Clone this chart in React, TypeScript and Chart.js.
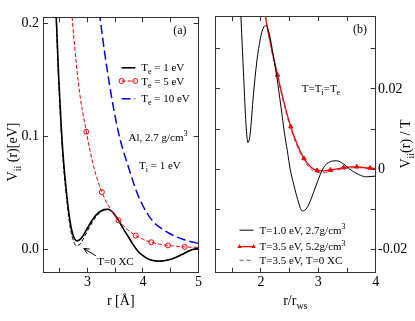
import React, { useEffect, useRef } from 'react';
import { Chart, registerables } from 'chart.js';

Chart.register(...registerables);

const FONT = '"Liberation Serif", "Times New Roman", Times, serif';

// ---------- Panel (a): V_ii(r) [eV] vs r [Å] ----------
const xLabelsA = [3, 4, 5];
const yLabelsA = [0, 0.1, 0.2];

// T_e = 1 eV (black solid)
const rBlackA = [2.40, 2.44, 2.48, 2.53, 2.57, 2.63, 2.69, 2.75, 2.82, 2.90, 3.00, 3.10, 3.20, 3.30, 3.38, 3.47, 3.56, 3.65, 3.74, 3.82, 3.91, 4.00, 4.10, 4.20, 4.32, 4.45, 4.60, 4.73, 4.85, 5.00];
const vBlackA = [0.26, 0.204, 0.155, 0.107, 0.078, 0.047, 0.024, 0.0115, 0.0076, 0.0105, 0.019, 0.027, 0.0325, 0.0352, 0.0355, 0.032, 0.0258, 0.018, 0.011, 0.0045, -0.0015, -0.0055, -0.0085, -0.0099, -0.0103, -0.0093, -0.0068, -0.0037, -0.0008, 0.0012];

// T_e = 1 eV, T=0 XC (black thin dashed)
const rDashA = [2.40, 2.44, 2.48, 2.53, 2.57, 2.63, 2.69, 2.75, 2.80, 2.87, 2.95, 3.05, 3.15, 3.25, 3.35, 3.47, 3.56, 3.65, 3.74, 3.82, 3.91, 4.00, 4.10, 4.20, 4.32, 4.45, 4.60, 4.73, 4.85, 5.00];
const vDashA = [0.26, 0.2, 0.151, 0.103, 0.074, 0.043, 0.0195, 0.0075, 0.0033, 0.005, 0.0115, 0.021, 0.0285, 0.0335, 0.0355, 0.032, 0.0258, 0.018, 0.011, 0.0045, -0.0015, -0.0055, -0.0085, -0.0099, -0.0103, -0.0093, -0.0068, -0.0037, -0.0008, 0.0012];

// T_e = 5 eV (red dashed, open circles)
const rRedA = [2.60, 2.69, 2.835, 2.98, 3.12, 3.26, 3.41, 3.56, 3.715, 3.87, 4.01, 4.15, 4.30, 4.45, 4.60, 4.75, 4.875, 5.00];
const vRedA = [0.29, 0.226, 0.148, 0.104, 0.072, 0.0507, 0.036, 0.0258, 0.0178, 0.0123, 0.0088, 0.0064, 0.0047, 0.0036, 0.0028, 0.0023, 0.002, 0.0018];
const redMarkersA = [2.98, 3.26, 3.56, 3.87, 4.15, 4.45, 4.75];

// T_e = 10 eV (blue long dash)
const rBlueA = [3.10, 3.23, 3.40, 3.56, 3.74, 3.91, 4.14, 4.43, 4.73, 5.00];
const vBlueA = [0.267, 0.204, 0.145, 0.103, 0.0727, 0.048, 0.0273, 0.0155, 0.0088, 0.0053];

// ---------- Panel (b): V_ii(r)/T vs r/r_ws ----------
const xLabelsB = [2, 3, 4];
const yLabelsB = [-0.02, 0, 0.02];

// T=1.0 eV, 2.7 g/cm3 (black thin)
const rBlackB = [1.63, 1.652, 1.70, 1.74, 1.774, 1.81, 1.87, 1.93, 1.99, 2.04, 2.09, 2.15, 2.21, 2.278, 2.35, 2.41, 2.46, 2.51, 2.57, 2.64, 2.72, 2.80, 2.88, 2.97, 3.09, 3.20, 3.32, 3.45, 3.55, 3.70, 3.84, 4.00];
const vBlackB = [0.046, 0.038, 0.0229, 0.0112, 0.0066, 0.0085, 0.0187, 0.027, 0.0325, 0.0352, 0.0358, 0.0335, 0.0288, 0.0229, 0.0155, 0.009, 0.0046, 0.0, -0.0037, -0.0075, -0.0104, -0.0097, -0.0072, -0.0037, 0.0004, 0.0018, 0.0021, 0.0012, 0.0, -0.0013, -0.0019, -0.0017];

// T=3.5 eV, 5.2 g/cm3 (red, triangles)
const rRedB = [2.00, 2.08, 2.18, 2.29, 2.40, 2.52, 2.63, 2.75, 2.86, 2.98, 3.09, 3.21, 3.33, 3.44, 3.56, 3.67, 3.79, 3.90, 4.00];
const vRedB = [0.047, 0.038, 0.0305, 0.0235, 0.0168, 0.0106, 0.0063, 0.0027, 0.0007, -0.0003, -0.0004, -0.0002, 0.0001, 0.0004, 0.0006, 0.0006, 0.0004, 0.0003, 0.0002];
const redMarkersB = [2.29, 2.52, 2.75, 2.98, 3.21, 3.44, 3.67, 3.90];

// T=3.5 eV, T=0 XC (purple dashed)
const rPurpleB = [2.00, 2.08, 2.18, 2.29, 2.40, 2.52, 2.63, 2.75, 2.86, 2.98, 3.09, 3.21, 3.33, 3.44, 3.56, 3.67, 3.79, 3.90, 4.00];
const vPurpleB = [0.047, 0.038, 0.030, 0.023, 0.0163, 0.0101, 0.0058, 0.0022, 0.0002, -0.0008, -0.0009, -0.0006, -0.0002, 0.0001, 0.0003, 0.0004, 0.0003, 0.0002, 0.0001];

const RED = '#ff0000';
const BLUE = '#0000ff';
const PURPLE = '#7f4f9f';
const AXIS = '#333333';

type Seg = { t: string; s?: 'sub' | 'sup'; w?: number };

function parseRich(s: string): Seg[] {
  const segs: Seg[] = [];
  const re = /([_^])\{([^}]*)\}|([^_^]+)/g;
  let m: RegExpExecArray | null;
  while ((m = re.exec(s))) {
    if (m[1]) segs.push({ t: m[2], s: m[1] === '_' ? 'sub' : 'sup' });
    else segs.push({ t: m[3] });
  }
  return segs;
}

function drawRich(ctx: CanvasRenderingContext2D, text: string, x: number, y: number, size: number, align: 'left' | 'center' | 'right', color = '#000') {
  const segs = parseRich(text);
  const small = Math.round(size * 0.72);
  let w = 0;
  for (const g of segs) {
    ctx.font = `${g.s ? small : size}px ${FONT}`;
    g.w = ctx.measureText(g.t).width;
    w += g.w;
  }
  let cx = align === 'center' ? x - w / 2 : align === 'right' ? x - w : x;
  const base = y + size * 0.33;
  ctx.fillStyle = color;
  ctx.textBaseline = 'alphabetic';
  ctx.textAlign = 'left';
  for (const g of segs) {
    ctx.font = `${g.s ? small : size}px ${FONT}`;
    const dy = g.s === 'sub' ? size * 0.28 : g.s === 'sup' ? -size * 0.42 : 0;
    ctx.fillText(g.t, cx, base + dy);
    cx += g.w || 0;
  }
}

function drawRotated(ctx: CanvasRenderingContext2D, text: string, x: number, y: number, size: number) {
  ctx.save();
  ctx.translate(x, y);
  ctx.rotate(-Math.PI / 2);
  drawRich(ctx, text, 0, 0, size, 'center');
  ctx.restore();
}

function drawMarker(ctx: CanvasRenderingContext2D, kind: string, x: number, y: number, color: string) {
  ctx.save();
  ctx.setLineDash([]);
  ctx.strokeStyle = color;
  ctx.fillStyle = color;
  ctx.lineWidth = 1;
  ctx.beginPath();
  if (kind === 'circle') {
    ctx.arc(x, y, 2.5, 0, Math.PI * 2);
    ctx.stroke();
  } else {
    const r = 2.6;
    ctx.moveTo(x, y - r);
    ctx.lineTo(x + r * 0.87, y + r * 0.5);
    ctx.lineTo(x - r * 0.87, y + r * 0.5);
    ctx.closePath();
    ctx.fill();
  }
  ctx.restore();
}

type LegendItem = { v: number; text: string; color: string; width: number; dash: number[]; marker?: string };

const legendA: LegendItem[] = [
  { v: 0.1605, text: 'T_{e} = 1 eV', color: '#000', width: 1.6, dash: [] },
  { v: 0.1488, text: 'T_{e} = 5 eV', color: RED, width: 1, dash: [4, 2], marker: 'circle' },
  { v: 0.1332, text: 'T_{e} = 10 eV', color: BLUE, width: 1.5, dash: [9, 4] },
];
const legendB: LegendItem[] = [
  { v: -0.0152, text: 'T=1.0 eV, 2.7g/cm^{3}', color: '#000', width: 1, dash: [] },
  { v: -0.0193, text: 'T=3.5 eV, 5.2g/cm^{3}', color: RED, width: 1.3, dash: [], marker: 'triangle' },
  { v: -0.0227, text: 'T=3.5 eV, T=0 XC', color: PURPLE, width: 1, dash: [4, 3] },
];

function drawLegend(ctx: CanvasRenderingContext2D, items: LegendItem[], X: (r: number) => number, Y: (v: number) => number, r1: number, r2: number, rt: number) {
  for (const it of items) {
    const y = Y(it.v);
    const x1 = X(r1), x2 = X(r2);
    ctx.save();
    ctx.strokeStyle = it.color;
    ctx.lineWidth = it.width;
    ctx.setLineDash(it.dash);
    ctx.beginPath();
    ctx.moveTo(x1, y);
    ctx.lineTo(x2, y);
    ctx.stroke();
    ctx.restore();
    if (it.marker) {
      drawMarker(ctx, it.marker, x1, y, it.color);
      drawMarker(ctx, it.marker, x2, y, it.color);
    }
    drawRich(ctx, it.text, X(rt), y, 11, 'left');
  }
}

const near = (list: number[], v: number) => list.some((a) => Math.abs(a - v) < 1e-6);

function axis(id: string, min: number, max: number, step: number, position: string, labels: number[] | null, fmt: (v: number) => string, pad: number, size: number) {
  const horizontal = position === 'top' || position === 'bottom';
  return {
    type: 'linear',
    position,
    min,
    max,
    ticks: {
      stepSize: step,
      includeBounds: false,
      autoSkip: false,
      maxRotation: 0,
      minRotation: 0,
      display: labels !== null,
      padding: pad,
      color: '#000',
      font: { family: FONT, size: 14 },
      callback: (v: number) => (labels && near(labels, v) ? fmt(v) : ''),
    },
    grid: { drawOnChartArea: false, drawTicks: true, tickLength: -5, color: AXIS, lineWidth: 1 },
    border: { display: true, color: AXIS, width: 1 },
    afterFit: (s: any) => {
      if (horizontal) s.height = size;
      else s.width = size;
    },
  };
}

const pts = (r: number[], v: number[]) => r.map((x, i) => ({ x, y: v[i] }));

export default function App() {
  const refA = useRef<HTMLCanvasElement>(null);
  const refB = useRef<HTMLCanvasElement>(null);

  useEffect(() => {
    const fmtInt = (v: number) => String(Math.round(v));
    const common = {
      animation: false as const,
      responsive: false,
      maintainAspectRatio: false,
      events: [] as any[],
      layout: { padding: 0 },
      plugins: { legend: { display: false }, tooltip: { enabled: false } },
    };

    const annotA = {
      id: 'annotA',
      afterDraw(chart: any) {
        const { ctx, chartArea: ca } = chart;
        const xs = chart.scales.x, ys = chart.scales.y;
        const X = (r: number) => xs.getPixelForValue(r);
        const Y = (v: number) => ys.getPixelForValue(v);
        ctx.save();
        drawRich(ctx, '(a)', X(4.666), Y(0.1936), 12, 'center');
        drawLegend(ctx, legendA, X, Y, 3.615, 3.862, 3.968);
        drawRich(ctx, 'Al, 2.7 g/cm^{3}', X(3.739), Y(0.099), 11, 'left');
        drawRich(ctx, 'T_{i} = 1 eV', X(3.93), Y(0.0741), 11, 'left');
        drawRich(ctx, 'T=0 XC', X(3.176), Y(-0.0109), 11, 'left');
        // arrow
        const tx = X(3.153), ty = Y(-0.0056), hx = X(2.935), hy = Y(0.0009);
        ctx.strokeStyle = '#000';
        ctx.lineWidth = 1;
        ctx.setLineDash([]);
        ctx.beginPath();
        ctx.moveTo(tx, ty);
        ctx.lineTo(hx, hy);
        const ang = Math.atan2(ty - hy, tx - hx);
        for (const d of [0.45, -0.45]) {
          ctx.moveTo(hx, hy);
          ctx.lineTo(hx + 6 * Math.cos(ang + d), hy + 6 * Math.sin(ang + d));
        }
        ctx.stroke();
        drawRich(ctx, 'r [Å]', (ca.left + ca.right) / 2, 300, 14, 'center');
        drawRotated(ctx, 'V_{ii} (r)[eV]', 12, 152, 14);
        ctx.restore();
      },
    };

    const annotB = {
      id: 'annotB',
      afterDraw(chart: any) {
        const { ctx, chartArea: ca } = chart;
        const xs = chart.scales.x, ys = chart.scales.y;
        const X = (r: number) => xs.getPixelForValue(r);
        const Y = (v: number) => ys.getPixelForValue(v);
        ctx.save();
        drawRich(ctx, '(b)', X(3.727), Y(0.035), 12, 'center');
        drawRich(ctx, 'T=T_{i}=T_{e}', X(2.713), Y(0.0202), 11, 'left');
        drawLegend(ctx, legendB, X, Y, 1.628, 1.871, 1.976);
        drawRich(ctx, 'r/r_{ws}', (ca.left + ca.right) / 2, 300, 14, 'center');
        drawRotated(ctx, 'V_{ii}(r) / T', 196, 144, 14);
        ctx.restore();
      },
    };

    const chartA = new Chart(refA.current as HTMLCanvasElement, {
      type: 'line',
      data: {
        datasets: [
          { data: pts(rBlueA, vBlueA), borderColor: BLUE, borderWidth: 1.5, borderDash: [9, 4], pointRadius: 0, cubicInterpolationMode: 'monotone', clip: 0 } as any,
          {
            data: pts(rRedA, vRedA), borderColor: RED, borderWidth: 1, borderDash: [4, 2], cubicInterpolationMode: 'monotone', clip: 0,
            pointRadius: (c: any) => (near(redMarkersA, rRedA[c.dataIndex]) ? 2.5 : 0),
            pointBorderColor: RED, pointBackgroundColor: 'rgba(255,255,255,0)', pointBorderWidth: 1,
          } as any,
          { data: pts(rDashA, vDashA), borderColor: '#000', borderWidth: 1, borderDash: [4, 2], pointRadius: 0, cubicInterpolationMode: 'monotone', clip: 0 } as any,
          { data: pts(rBlackA, vBlackA), borderColor: '#000', borderWidth: 1.6, pointRadius: 0, cubicInterpolationMode: 'monotone', clip: 0 } as any,
        ],
      },
      options: {
        ...common,
        scales: {
          x: axis('x', 2.2, 5, 0.5, 'bottom', xLabelsA, fmtInt, 6, 48.3),
          xTop: axis('xTop', 2.2, 5, 0.5, 'top', null, fmtInt, 0, 16),
          y: axis('y', -0.0205, 0.205, 0.1, 'left', yLabelsA, (v) => v.toFixed(1), 9, 43),
          yRight: axis('yRight', -0.0205, 0.205, 0.1, 'right', null, fmtInt, 0, 6),
        } as any,
      } as any,
      plugins: [annotA],
    });

    const chartB = new Chart(refB.current as HTMLCanvasElement, {
      type: 'line',
      data: {
        datasets: [
          { data: pts(rBlackB, vBlackB), borderColor: '#000', borderWidth: 1, pointRadius: 0, cubicInterpolationMode: 'monotone', clip: 0 } as any,
          {
            data: pts(rRedB, vRedB), borderColor: RED, borderWidth: 1.3, cubicInterpolationMode: 'monotone', clip: 0,
            pointRadius: (c: any) => (near(redMarkersB, rRedB[c.dataIndex]) ? 2.5 : 0),
            pointStyle: 'triangle', pointBorderColor: RED, pointBackgroundColor: RED, pointBorderWidth: 1,
          } as any,
          { data: pts(rPurpleB, vPurpleB), borderColor: PURPLE, borderWidth: 1, borderDash: [4, 3], pointRadius: 0, cubicInterpolationMode: 'monotone', clip: 0 } as any,
        ],
      },
      options: {
        ...common,
        scales: {
          x: axis('x', 1.2, 4, 0.5, 'bottom', xLabelsB, fmtInt, 6, 48.3),
          xTop: axis('xTop', 1.2, 4, 0.5, 'top', null, fmtInt, 0, 16),
          y: axis('y', -0.0258, 0.0382, 0.01, 'left', null, fmtInt, 0, 6),
          yRight: axis('yRight', -0.0258, 0.0382, 0.01, 'right', yLabelsB, (v) => (Math.abs(v) < 1e-9 ? '0' : v.toFixed(2)), 7.3, 39.3),
        } as any,
      } as any,
      plugins: [annotB],
    });

    return () => {
      chartA.destroy();
      chartB.destroy();
    };
  }, []);

  return (
    <div style={{ position: 'fixed', left: 0, top: 0, width: 415, height: 321, background: '#fff' }}>
      <canvas ref={refA} width={208} height={321} style={{ position: 'absolute', left: 0, top: 0, width: 208, height: 321 }} />
      <canvas ref={refB} width={206} height={321} style={{ position: 'absolute', left: 209, top: 0, width: 206, height: 321 }} />
    </div>
  );
}
